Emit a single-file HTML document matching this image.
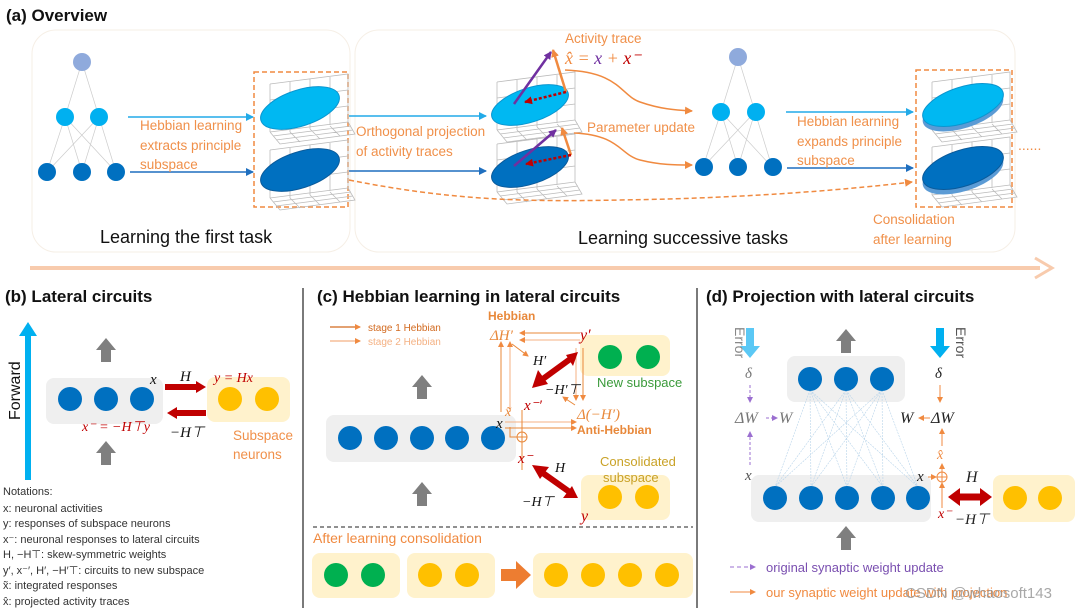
<!DOCTYPE html>
<html><head><meta charset="utf-8"><style>
html,body{margin:0;padding:0;background:#fff;}
svg{display:block;font-family:"Liberation Sans",sans-serif;}
.t{font-weight:bold;font-size:17px;fill:#111;}
.or{fill:#f0904a;font-size:13.5px;}
.m{font-family:"Liberation Serif",serif;font-style:italic;}
.nt{font-size:11px;fill:#333;}
</style></head><body>
<svg width="1080" height="608" viewBox="0 0 1080 608" xmlns="http://www.w3.org/2000/svg">
<defs>
<marker id="ab" markerWidth="8" markerHeight="8" refX="7" refY="4" orient="auto" markerUnits="userSpaceOnUse"><path d="M0,0L8,4L0,8z" fill="#22aae8"/></marker>
<marker id="ad" markerWidth="8" markerHeight="8" refX="7" refY="4" orient="auto" markerUnits="userSpaceOnUse"><path d="M0,0L8,4L0,8z" fill="#1f6fbf"/></marker>
<marker id="ao" markerWidth="8" markerHeight="8" refX="7" refY="4" orient="auto" markerUnits="userSpaceOnUse"><path d="M0,0L8,4L0,8z" fill="#f08a40"/></marker>
<marker id="ao2" markerWidth="6" markerHeight="6" refX="5" refY="3" orient="auto" markerUnits="userSpaceOnUse"><path d="M0,0L6,3L0,6z" fill="#f08a40"/></marker>
<marker id="ap" markerWidth="6" markerHeight="6" refX="5" refY="3" orient="auto" markerUnits="userSpaceOnUse"><path d="M0,0L6,3L0,6z" fill="#9b6fd0"/></marker>
<marker id="apv" markerWidth="8" markerHeight="8" refX="7" refY="4" orient="auto" markerUnits="userSpaceOnUse"><path d="M0,0L8,4L0,8z" fill="#7030a0"/></marker>
<marker id="ar" markerWidth="8" markerHeight="8" refX="7" refY="4" orient="auto" markerUnits="userSpaceOnUse"><path d="M0,0L8,4L0,8z" fill="#c00000"/></marker>
<g id="grid" stroke="#bbb" stroke-width="0.8" fill="none">
<path d="M10,2L88,-8L88,40M10,2L10,50M10,50L88,40M10,50L20,62L95,52L88,40M30,0L30,50M50,-3L50,47M70,-5L70,43M10,18L88,8M10,34L88,24M13,54L91,44M16,58L93,48M30,50L40,60M50,47L60,57M70,44L80,54"/>
</g>
<g id="net" stroke="#ccc" stroke-width="0.7">
<path d="M0,0L-17,55M0,0L17,55M-17,55L-35,110M-17,55L0,110M-17,55L34,110M17,55L-35,110M17,55L0,110M17,55L34,110"/>
</g>
<path id="gup" d="M-5,0L-5,-12L-10,-12L0,-24L10,-12L5,-12L5,0z" fill="#7f7f7f"/>
</defs>

<!-- (a) -->
<text x="6" y="21" class="t">(a)  Overview</text>
<rect x="32" y="30" width="318" height="222" rx="24" fill="#fff" stroke="#f6efe6"/>
<rect x="355" y="30" width="660" height="222" rx="24" fill="#fff" stroke="#f6efe6"/>
<line x1="30" y1="268" x2="1040" y2="268" stroke="#f8cbad" stroke-width="4"/>
<path d="M1035,258L1052,268L1035,278" fill="none" stroke="#f8cbad" stroke-width="3"/>

<g transform="translate(82,62)"><use href="#net"/></g>
<circle cx="82" cy="62" r="9" fill="#8faadc"/>
<circle cx="65" cy="117" r="9" fill="#00b0f0"/><circle cx="99" cy="117" r="9" fill="#00b0f0"/>
<circle cx="47" cy="172" r="9" fill="#0070c0"/><circle cx="82" cy="172" r="9" fill="#0070c0"/><circle cx="116" cy="172" r="9" fill="#0070c0"/>
<line x1="128" y1="117" x2="253" y2="117" stroke="#22aae8" stroke-width="1.5" marker-end="url(#ab)"/>
<line x1="130" y1="172" x2="253" y2="172" stroke="#1f6fbf" stroke-width="1.5" marker-end="url(#ad)"/>
<text class="or"><tspan x="140" y="130">Hebbian learning</tspan><tspan x="140" y="150">extracts principle</tspan><tspan x="140" y="169">subspace</tspan></text>
<rect x="254" y="72" width="94" height="135" fill="none" stroke="#f08a40" stroke-width="1.5" stroke-dasharray="5,3"/>
<use href="#grid" x="260" y="82"/><use href="#grid" x="260" y="148"/>
<ellipse cx="300" cy="108" rx="41" ry="18" transform="rotate(-18 300 108)" fill="#00b8f2" stroke="#0a95cf"/>
<ellipse cx="300" cy="170" rx="41" ry="18" transform="rotate(-18 300 170)" fill="#0070c0" stroke="#0a5a9a"/>
<text x="100" y="243" font-size="18" fill="#111">Learning the first task</text>

<line x1="349" y1="116" x2="486" y2="116" stroke="#22aae8" stroke-width="1.5" marker-end="url(#ab)"/>
<line x1="349" y1="171" x2="486" y2="171" stroke="#1f6fbf" stroke-width="1.5" marker-end="url(#ad)"/>
<text class="or"><tspan x="356" y="136">Orthogonal projection</tspan><tspan x="356" y="156">of activity traces</tspan></text>
<use href="#grid" x="487" y="80"/><use href="#grid" x="487" y="142"/>
<ellipse cx="530" cy="105" rx="40" ry="17" transform="rotate(-18 530 105)" fill="#00b8f2" stroke="#0a95cf"/>
<ellipse cx="530" cy="167" rx="40" ry="17" transform="rotate(-18 530 167)" fill="#0070c0" stroke="#0a5a9a"/>
<line x1="514" y1="104" x2="551" y2="52" stroke="#7030a0" stroke-width="2.5" marker-end="url(#apv)"/>
<line x1="566" y1="92" x2="553" y2="50" stroke="#f08a40" stroke-width="2.5" marker-end="url(#ao)"/>
<line x1="566" y1="92" x2="525" y2="102" stroke="#c00000" stroke-width="2.5" stroke-dasharray="3,2" marker-end="url(#ar)"/>
<line x1="514" y1="166" x2="556" y2="130" stroke="#7030a0" stroke-width="2.5" marker-end="url(#apv)"/>
<line x1="571" y1="155" x2="562" y2="128" stroke="#f08a40" stroke-width="2.5" marker-end="url(#ao)"/>
<line x1="571" y1="155" x2="526" y2="164" stroke="#c00000" stroke-width="2.5" stroke-dasharray="3,2" marker-end="url(#ar)"/>
<text x="565" y="43" class="or">Activity trace</text>
<text x="565" y="64" font-size="18" class="m"><tspan fill="#f08a40">x̂ = </tspan><tspan fill="#7030a0">x</tspan><tspan fill="#f08a40"> + </tspan><tspan fill="#c00000">x⁻</tspan></text>
<path d="M565,70C620,72 620,95 640,102C660,109 675,110 692,111" fill="none" stroke="#f08a40" stroke-width="1.5" marker-end="url(#ao)"/>
<path d="M574,133C620,135 620,155 640,160C660,165 675,165 692,165" fill="none" stroke="#f08a40" stroke-width="1.5" marker-end="url(#ao)"/>
<text x="587" y="132" class="or">Parameter update</text>

<g transform="translate(738,57)"><use href="#net"/></g>
<circle cx="738" cy="57" r="9" fill="#8faadc"/>
<circle cx="721" cy="112" r="9" fill="#00b0f0"/><circle cx="756" cy="112" r="9" fill="#00b0f0"/>
<circle cx="704" cy="167" r="9" fill="#0070c0"/><circle cx="738" cy="167" r="9" fill="#0070c0"/><circle cx="773" cy="167" r="9" fill="#0070c0"/>
<line x1="786" y1="112" x2="913" y2="112" stroke="#22aae8" stroke-width="1.5" marker-end="url(#ab)"/>
<line x1="787" y1="168" x2="913" y2="168" stroke="#1f6fbf" stroke-width="1.5" marker-end="url(#ad)"/>
<text class="or"><tspan x="797" y="126">Hebbian learning</tspan><tspan x="797" y="146">expands principle</tspan><tspan x="797" y="165">subspace</tspan></text>
<rect x="916" y="70" width="96" height="137" fill="none" stroke="#f08a40" stroke-width="1.5" stroke-dasharray="5,3"/>
<use href="#grid" x="922" y="80"/><use href="#grid" x="922" y="145"/>
<ellipse cx="963" cy="110" rx="42" ry="18" transform="rotate(-18 963 110)" fill="#5b9bd5"/>
<ellipse cx="963" cy="105" rx="42" ry="18" transform="rotate(-18 963 105)" fill="#00b8f2" stroke="#0a95cf"/>
<ellipse cx="963" cy="173" rx="42" ry="18" transform="rotate(-18 963 173)" fill="#5b9bd5"/>
<ellipse cx="963" cy="168" rx="42" ry="18" transform="rotate(-18 963 168)" fill="#0070c0" stroke="#0a5a9a"/>
<text x="1018" y="150" font-size="14" fill="#f08a40">......</text>
<path d="M349,180C450,200 520,202 620,200C760,198 860,188 912,182" fill="none" stroke="#f08a40" stroke-width="1.5" stroke-dasharray="5,3" marker-end="url(#ao)"/>
<text class="or"><tspan x="873" y="224">Consolidation</tspan><tspan x="873" y="244">after learning</tspan></text>
<text x="578" y="244" font-size="18" fill="#111">Learning successive tasks</text>

<!-- dividers -->
<line x1="303" y1="288" x2="303" y2="608" stroke="#222" stroke-width="1.2"/>
<line x1="697" y1="288" x2="697" y2="608" stroke="#222" stroke-width="1.2"/>

<!-- (b) -->
<text x="5" y="302" class="t">(b)   Lateral circuits</text>
<line x1="28" y1="480" x2="28" y2="334" stroke="#00b0f0" stroke-width="6"/>
<path d="M19,336L28,322L37,336z" fill="#00b0f0"/>
<text transform="translate(20,420) rotate(-90)" font-size="16" fill="#111">Forward</text>
<rect x="46" y="378" width="117" height="46" rx="8" fill="#efefef"/>
<circle cx="70" cy="399" r="12" fill="#0070c0"/><circle cx="106" cy="399" r="12" fill="#0070c0"/><circle cx="142" cy="399" r="12" fill="#0070c0"/>
<use href="#gup" x="106" y="362"/><use href="#gup" x="106" y="465"/>
<rect x="207" y="377" width="83" height="45" rx="8" fill="#fff2cc"/>
<circle cx="230" cy="399" r="12" fill="#ffc000"/><circle cx="267" cy="399" r="12" fill="#ffc000"/>
<line x1="165" y1="387" x2="198" y2="387" stroke="#c00000" stroke-width="6"/><path d="M196,381L206,387L196,393z" fill="#c00000"/>
<line x1="206" y1="413" x2="175" y2="413" stroke="#c00000" stroke-width="6"/><path d="M177,407L167,413L177,419z" fill="#c00000"/>
<text x="150" y="384" font-size="15" class="m" fill="#111">x</text>
<text x="180" y="381" font-size="15" class="m" fill="#111">H</text>
<text x="214" y="382" font-size="14" class="m" fill="#c00000">y = Hx</text>
<text x="82" y="431" font-size="14" class="m" fill="#c00000">x⁻ = −H⊤y</text>
<text x="170" y="437" font-size="15" class="m" fill="#111">−H⊤</text>
<text class="or" font-size="14"><tspan x="233" y="440">Subspace</tspan><tspan x="233" y="459">neurons</tspan></text>
<text class="nt"><tspan x="3" y="495">Notations:</tspan><tspan x="3" y="512">x: neuronal activities</tspan><tspan x="3" y="527">y: responses of subspace neurons</tspan><tspan x="3" y="543">x⁻: neuronal responses to lateral circuits</tspan><tspan x="3" y="558">H, −H⊤: skew-symmetric weights</tspan><tspan x="3" y="574">y′, x⁻′, H′, −H′⊤: circuits to new subspace</tspan><tspan x="3" y="589">x̃: integrated responses</tspan><tspan x="3" y="605">x̂: projected activity traces</tspan></text>

<!-- (c) -->
<text x="317" y="302" class="t">(c)   Hebbian learning in lateral circuits</text>
<line x1="330" y1="327" x2="360" y2="327" stroke="#d2691e" stroke-width="1.2" marker-end="url(#ao2)"/>
<line x1="330" y1="341" x2="360" y2="341" stroke="#f4b183" stroke-width="1.2" marker-end="url(#ao2)"/>
<text x="368" y="331" font-size="10" fill="#d2691e">stage 1 Hebbian</text>
<text x="368" y="345" font-size="10" fill="#f4b183">stage 2 Hebbian</text>
<rect x="326" y="415" width="190" height="47" rx="8" fill="#efefef"/>
<circle cx="350" cy="438" r="12" fill="#0070c0"/><circle cx="386" cy="438" r="12" fill="#0070c0"/><circle cx="422" cy="438" r="12" fill="#0070c0"/><circle cx="457" cy="438" r="12" fill="#0070c0"/><circle cx="493" cy="438" r="12" fill="#0070c0"/>
<use href="#gup" x="422" y="399"/><use href="#gup" x="422" y="506"/>
<rect x="580" y="335" width="90" height="41" rx="8" fill="#fff2cc"/>
<circle cx="610" cy="357" r="12" fill="#00b050"/><circle cx="648" cy="357" r="12" fill="#00b050"/>
<text x="597" y="387" font-size="13" fill="#3a9a3a">New subspace</text>
<rect x="581" y="475" width="89" height="45" rx="8" fill="#fff2cc"/>
<circle cx="610" cy="497" r="12" fill="#ffc000"/><circle cx="647" cy="497" r="12" fill="#ffc000"/>
<text font-size="13" fill="#c9a227"><tspan x="600" y="466">Consolidated</tspan><tspan x="603" y="482">subspace</tspan></text>
<g stroke="#e8883a" stroke-width="1" fill="none">
<path d="M501,412L501,342" marker-end="url(#ao2)"/>
<path d="M510,412L510,342" stroke="#f4b183" marker-end="url(#ao2)"/>
<path d="M580,333L520,333" marker-end="url(#ao2)"/>
<path d="M580,340L520,340" stroke="#f4b183" marker-end="url(#ao2)"/>
<path d="M583,348L583,400" marker-end="url(#ao2)"/>
<path d="M576,348L576,400" stroke="#f4b183" marker-end="url(#ao2)"/>
<path d="M505,422L576,422" stroke="#f4b183" marker-end="url(#ao2)"/>
<path d="M505,428L576,428" marker-end="url(#ao2)"/>
<path d="M522,410L522,470M510,427L510,437L517,437"/>
<path d="M512,344L528,356" marker-end="url(#ao2)"/>
<path d="M575,405L563,397" marker-end="url(#ao2)"/>
</g>
<circle cx="522" cy="437" r="5" fill="none" stroke="#e8883a"/><path d="M517,437h10M522,432v10" stroke="#e8883a"/>
<text x="488" y="320" font-size="12" font-weight="bold" fill="#e8883a">Hebbian</text>
<text x="490" y="340" font-size="15" class="m" fill="#e8883a">ΔH′</text>
<text x="580" y="340" font-size="16" class="m" fill="#c00000">y′</text>
<text x="533" y="365" font-size="14" class="m" fill="#111">H′</text>
<text x="545" y="394" font-size="14" class="m" fill="#111">−H′⊤</text>
<text x="524" y="410" font-size="15" class="m" fill="#c00000">x⁻′</text>
<text x="505" y="416" font-size="14" class="m" fill="#e8883a">x̃</text>
<text x="496" y="428" font-size="15" class="m" fill="#111">x</text>
<text x="577" y="419" font-size="15" class="m" fill="#e8883a">Δ(−H′)</text>
<text x="577" y="434" font-size="12" font-weight="bold" fill="#e8883a">Anti-Hebbian</text>
<text x="518" y="463" font-size="15" class="m" fill="#c00000">x⁻</text>
<text x="555" y="472" font-size="14" class="m" fill="#111">H</text>
<text x="522" y="506" font-size="14" class="m" fill="#111">−H⊤</text>
<text x="581" y="521" font-size="16" class="m" fill="#c00000">y</text>
<g fill="#c00000">
<path d="M540,381L573,357" stroke="#c00000" stroke-width="6"/><path d="M532,388L538,370L548,384z"/><path d="M578,352L566,355L573,366z"/>
<path d="M540,471L571,493" stroke="#c00000" stroke-width="6"/><path d="M532,465L549,467L540,479z"/><path d="M578,498L563,498L572,486z"/>
</g>
<line x1="313" y1="527" x2="693" y2="527" stroke="#222" stroke-dasharray="4,3"/>
<text x="313" y="543" font-size="14" fill="#f08a40">After learning consolidation</text>
<rect x="312" y="553" width="88" height="45" rx="8" fill="#fff2cc"/>
<circle cx="336" cy="575" r="12" fill="#00b050"/><circle cx="373" cy="575" r="12" fill="#00b050"/>
<rect x="407" y="553" width="88" height="45" rx="8" fill="#fff2cc"/>
<circle cx="430" cy="575" r="12" fill="#ffc000"/><circle cx="467" cy="575" r="12" fill="#ffc000"/>
<path d="M501,569L516,569L516,561L531,575L516,589L516,581L501,581z" fill="#ed7d31"/>
<rect x="533" y="553" width="160" height="45" rx="8" fill="#fff2cc"/>
<circle cx="556" cy="575" r="12" fill="#ffc000"/><circle cx="593" cy="575" r="12" fill="#ffc000"/><circle cx="630" cy="575" r="12" fill="#ffc000"/><circle cx="667" cy="575" r="12" fill="#ffc000"/>

<!-- (d) -->
<text x="706" y="302" class="t">(d)   Projection with lateral circuits</text>
<rect x="787" y="356" width="118" height="46" rx="8" fill="#efefef"/>
<rect x="751" y="475" width="180" height="47" rx="8" fill="#efefef"/>
<g stroke="#b8d4ea" stroke-width="0.6" stroke-dasharray="2,1">
<path d="M810,390L775,487M810,390L811,487M810,390L847,487M810,390L883,487M810,390L918,487M846,390L775,487M846,390L811,487M846,390L847,487M846,390L883,487M846,390L918,487M882,390L775,487M882,390L811,487M882,390L847,487M882,390L883,487M882,390L918,487"/>
</g>
<circle cx="810" cy="379" r="12" fill="#0070c0"/><circle cx="846" cy="379" r="12" fill="#0070c0"/><circle cx="882" cy="379" r="12" fill="#0070c0"/>
<circle cx="775" cy="498" r="12" fill="#0070c0"/><circle cx="811" cy="498" r="12" fill="#0070c0"/><circle cx="847" cy="498" r="12" fill="#0070c0"/><circle cx="883" cy="498" r="12" fill="#0070c0"/><circle cx="918" cy="498" r="12" fill="#0070c0"/>
<use href="#gup" x="846" y="353"/><use href="#gup" x="846" y="550"/>
<path d="M746,328h8v18h6l-10,12l-10,-12h6z" fill="#5bc8f5"/>
<path d="M936,328h8v18h6l-10,12l-10,-12h6z" fill="#00b0f0"/>
<text transform="translate(735,327) rotate(90)" font-size="14" fill="#888">Error</text>
<text transform="translate(956,327) rotate(90)" font-size="14" fill="#555">Error</text>
<text x="745" y="378" font-size="15" class="m" fill="#777">δ</text>
<text x="935" y="378" font-size="15" class="m" fill="#222">δ</text>
<line x1="750" y1="385" x2="750" y2="402" stroke="#9b6fd0" stroke-dasharray="3,2" marker-end="url(#ap)"/>
<line x1="750" y1="465" x2="750" y2="432" stroke="#9b6fd0" stroke-dasharray="3,2" marker-end="url(#ap)"/>
<text x="735" y="423" font-size="16" class="m" fill="#777">ΔW</text>
<line x1="766" y1="418" x2="777" y2="418" stroke="#9b6fd0" stroke-dasharray="3,2" marker-end="url(#ap)"/>
<text x="779" y="423" font-size="16" class="m" fill="#777">W</text>
<text x="745" y="480" font-size="15" class="m" fill="#555">x</text>
<line x1="940" y1="385" x2="940" y2="402" stroke="#f08a40" marker-end="url(#ao2)"/>
<text x="900" y="423" font-size="16" class="m" fill="#222">W</text>
<line x1="930" y1="418" x2="919" y2="418" stroke="#f08a40" marker-end="url(#ao2)"/>
<text x="931" y="423" font-size="16" class="m" fill="#222">ΔW</text>
<line x1="942" y1="446" x2="942" y2="429" stroke="#f08a40" marker-end="url(#ao2)"/>
<text x="937" y="459" font-size="14" class="m" fill="#f08a40">x̂</text>
<line x1="942" y1="472" x2="942" y2="464" stroke="#f08a40" marker-end="url(#ao2)"/>
<circle cx="942" cy="477" r="5" fill="none" stroke="#f08a40"/><path d="M937,477h10M942,472v10" stroke="#f08a40"/>
<text x="917" y="481" font-size="15" class="m" fill="#222">x</text>
<line x1="928" y1="477" x2="936" y2="477" stroke="#f08a40" marker-end="url(#ao2)"/>
<line x1="942" y1="508" x2="942" y2="483" stroke="#f08a40" marker-end="url(#ao2)"/>
<text x="938" y="518" font-size="14" class="m" fill="#c00000">x⁻</text>
<text x="955" y="524" font-size="15" class="m" fill="#222">−H⊤</text>
<text x="966" y="482" font-size="16" class="m" fill="#222">H</text>
<text x="1002" y="482" font-size="14" class="m" fill="#c00000">y</text>
<line x1="958" y1="497" x2="982" y2="497" stroke="#c00000" stroke-width="7"/>
<path d="M960,488L948,497L960,506z M980,488L992,497L980,506z" fill="#c00000"/>
<rect x="993" y="475" width="82" height="47" rx="8" fill="#fff2cc"/>
<circle cx="1015" cy="498" r="12" fill="#ffc000"/><circle cx="1050" cy="498" r="12" fill="#ffc000"/>
<line x1="730" y1="567" x2="755" y2="567" stroke="#9b6fd0" stroke-dasharray="4,3" marker-end="url(#ap)"/>
<text x="766" y="572" font-size="13" fill="#7a4fb0">original synaptic weight update</text>
<line x1="730" y1="592" x2="755" y2="592" stroke="#f08a40" marker-end="url(#ao2)"/>
<text x="766" y="597" font-size="13" fill="#f08a40">our synaptic weight update with projection</text>
<text x="905" y="598" font-size="15" fill="#999" opacity="0.85">CSDN @whaosoft143</text>
</svg>
</body></html>
